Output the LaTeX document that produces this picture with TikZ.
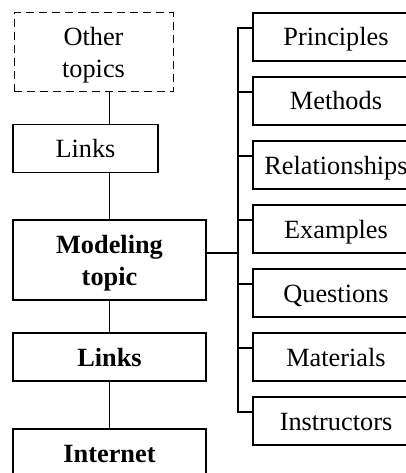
\documentclass[tikz,border=0pt]{standalone}
\usepackage{fontspec}
\setmainfont{Liberation Serif}
\begin{document}
\begin{tikzpicture}[x=1pt,y=-1pt,
  box/.style={draw,line width=1.9pt,inner sep=0pt,outer sep=0pt,align=center,
    font=\fontsize{26.3}{32}\selectfont,text height=24pt,text depth=6pt},
  twoline/.style={text height=56pt},
  dbox/.style={box,line width=1pt,dash pattern=on 8pt off 5pt},
  conn/.style={line width=1.9pt}]
\useasboundingbox (0,0) rectangle (406,473);
\clip (0,0) rectangle (406,473);
% left column
\node[dbox,twoline,minimum width=159pt,minimum height=79pt] (other) at (93.5,52.5) {Other\\topics};
\node[box,minimum width=145pt,minimum height=48pt] (links1) at (85.5,148.5) {Links};
\node[box,twoline,minimum width=193pt,minimum height=80pt] (model) at (109.5,260) {\bfseries Modeling\\\bfseries topic};
\node[box,minimum width=193pt,minimum height=48pt] (links2) at (109.5,357) {\bfseries Links};
\node[box,minimum width=193pt,minimum height=48pt] (inet) at (109.5,453) {\bfseries Internet};
% right column
\foreach \n/\t [count=\i from 0] in {b1/Principles,b2/Methods,b3/Relationships,b4/Examples,b5/Questions,b6/Materials,b7/Instructors}
  \node[box,minimum width=166pt,minimum height=48pt] (\n) at (336,37+64*\i) {\t};
\coordinate (hub) at (238,253);
% connectors
\draw[conn] (model.north |- other.south) -- (model.north |- links1.north);
\draw[conn] (model.north |- links1.south) -- (model.north);
\draw[conn] (model.south) -- (links2.north);
\draw[conn] (links2.south) -- (inet.north);
\draw[conn] (model.east |- hub) -- (hub);
\draw[conn] ([yshift=9pt]b1.west) -| ([yshift=9pt]b7.west -| hub) -- ([yshift=9pt]b7.west);
\foreach \n in {b2,b3,b4,b5,b6}
  \draw[conn] ([yshift=9pt]\n.west -| hub) -- ([yshift=9pt]\n.west);
\end{tikzpicture}
\end{document}
